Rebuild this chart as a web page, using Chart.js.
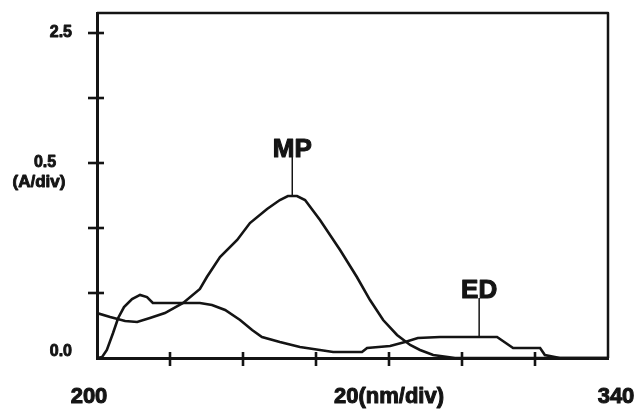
<!DOCTYPE html>
<html>
<head>
<meta charset="utf-8">
<script src="https://cdn.jsdelivr.net/npm/chart.js@4/dist/chart.umd.min.js"></script>
<style>
  html, body { margin: 0; padding: 0; background: #fff; }
  #wrap { width: 637px; height: 409px; }
</style>
</head>
<body>
<div id="wrap"><canvas id="spec" width="637" height="409"></canvas></div>
<script>
/* UV spectra: MP / ED, 200-340 nm, 20 nm/div, 0.5 A/div */
var INK = '#141414';

var xTicks = [220, 240, 260, 280, 300, 320];
var yTicks = [0.5, 1.0, 1.5, 2.0, 2.5];
var xLabels = [{ v: 200, t: '200' }, { v: 280, t: '20(nm/div)' }, { v: 340, t: '340' }];

var mpWl  = [200, 203.6, 207.7, 211.0, 214.5, 218.6, 223.6, 228.2, 230.1, 233.7, 238.4, 241.9, 246.6, 250.1, 252.3, 254.8, 257.0, 261.1, 266.6, 271.2, 274.8, 278.4, 282.2, 285.8, 288.5, 292.1, 298.1, 340];
var mpAbs = [0.346, 0.315, 0.285, 0.277, 0.308, 0.346, 0.423, 0.531, 0.623, 0.777, 0.908, 1.038, 1.146, 1.215, 1.246, 1.246, 1.215, 1.062, 0.831, 0.623, 0.446, 0.292, 0.177, 0.100, 0.062, 0.023, 0, 0];

var edWl  = [200, 201.4, 202.7, 204.4, 205.8, 207.4, 209.6, 211.8, 213.7, 215.3, 228.2, 231.5, 235.1, 239.2, 242.5, 245.2, 250.1, 255.6, 264.7, 272.6, 274.0, 280.3, 284.4, 287.9, 294.0, 309.6, 314.0, 321.4, 322.7, 326.8, 340];
var edAbs = [0, 0.008, 0.062, 0.192, 0.308, 0.392, 0.454, 0.485, 0.469, 0.423, 0.423, 0.408, 0.369, 0.292, 0.215, 0.162, 0.123, 0.085, 0.046, 0.046, 0.077, 0.092, 0.123, 0.154, 0.162, 0.162, 0.077, 0.077, 0.023, 0, 0];

var peakMarks = [{ t: 'MP', wl: 253.5, a: 1.246 }, { t: 'ED', wl: 304.7, a: 0.162 }];

function pts(xs, ys) {
  return xs.map(function (x, i) { return { x: x, y: ys[i] }; });
}

// bold text with a thin outline, the scan's type is heavier than plain bold
function heavyText(ctx, t, x, y, w) {
  ctx.lineWidth = w || 0.9;
  ctx.strokeText(t, x, y);
  ctx.fillText(t, x, y);
}

/* frame, crossing ticks, labels and peak pointers */
var decor = {
  id: 'decor',
  afterDraw: function (chart) {
    var ctx = chart.ctx, a = chart.chartArea;
    var sx = chart.scales.x, sy = chart.scales.y;
    ctx.save();
    ctx.strokeStyle = INK; ctx.fillStyle = INK; ctx.lineCap = 'butt'; ctx.lineJoin = 'round';

    // top + right border
    ctx.lineWidth = 2.5;
    ctx.beginPath();
    ctx.moveTo(a.left, a.top); ctx.lineTo(a.right, a.top); ctx.lineTo(a.right, a.bottom);
    ctx.stroke();

    // ticks crossing the axes
    ctx.lineWidth = 2.6;
    xTicks.forEach(function (v) {
      var px = sx.getPixelForValue(v);
      ctx.beginPath(); ctx.moveTo(px, a.bottom - 6); ctx.lineTo(px, a.bottom + 8); ctx.stroke();
    });
    yTicks.forEach(function (v) {
      var py = sy.getPixelForValue(v);
      ctx.beginPath(); ctx.moveTo(a.left - 9, py); ctx.lineTo(a.left + 7, py); ctx.stroke();
    });

    // y labels
    ctx.font = 'bold 16px "Liberation Sans", Arial, sans-serif';
    ctx.textBaseline = 'middle';
    ctx.textAlign = 'right';
    heavyText(ctx, '2.5', 72, sy.getPixelForValue(2.5));
    heavyText(ctx, '0.0', 72, sy.getPixelForValue(0) - 6);
    ctx.textAlign = 'center';
    heavyText(ctx, '0.5', 45, sy.getPixelForValue(1.5));
    ctx.font = 'bold 17px "Liberation Sans", Arial, sans-serif';
    heavyText(ctx, '(A/div)', 39, sy.getPixelForValue(1.5) + 19);

    // x labels
    ctx.font = 'bold 22px "Liberation Sans", Arial, sans-serif';
    ctx.textAlign = 'center';
    xLabels.forEach(function (l) {
      var px = sx.getPixelForValue(l.v);
      if (l.v === 200) px += -8;
      if (l.v === 340) px += 8;
      heavyText(ctx, l.t, px, a.bottom + 39, 1);
    });

    // peak pointers
    ctx.font = 'bold 26px "Liberation Sans", Arial, sans-serif';
    ctx.textBaseline = 'alphabetic';
    peakMarks.forEach(function (m) {
      var px = sx.getPixelForValue(m.wl), py = sy.getPixelForValue(m.a);
      ctx.lineWidth = 1.5;
      ctx.beginPath(); ctx.moveTo(px, py); ctx.lineTo(px, py - 39); ctx.stroke();
      heavyText(ctx, m.t, px, py - 39, 1.1);
    });
    ctx.restore();
  }
};

new Chart(document.getElementById('spec'), {
  type: 'line',
  data: {
    datasets: [
      { label: 'MP', data: pts(mpWl, mpAbs), borderColor: INK, borderWidth: 2.6, pointRadius: 0, tension: 0, fill: false },
      { label: 'ED', data: pts(edWl, edAbs), borderColor: INK, borderWidth: 2.6, pointRadius: 0, tension: 0, fill: false }
    ]
  },
  options: {
    responsive: false, animation: false, events: [],
    layout: { padding: { left: 97, top: 13, right: 29, bottom: 51 } },
    plugins: { legend: { display: false }, tooltip: { enabled: false }, title: { display: false } },
    scales: {
      x: {
        type: 'linear', min: 200, max: 340,
        ticks: { display: false },
        grid: { display: false, drawTicks: false },
        border: { display: true, width: 3, color: INK }
      },
      y: {
        type: 'linear', min: 0, max: 2.654,
        ticks: { display: false },
        grid: { display: false, drawTicks: false },
        border: { display: true, width: 3, color: INK }
      }
    }
  },
  plugins: [decor]
});
</script>
</body>
</html>
